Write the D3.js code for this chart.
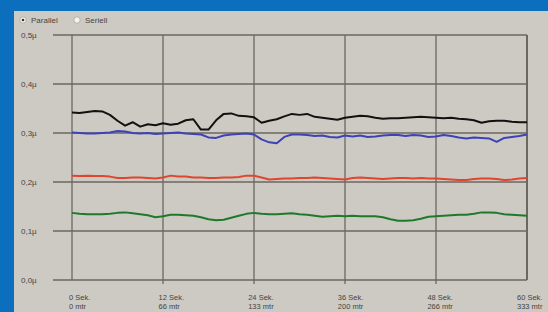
<!DOCTYPE html>
<html>
<head>
<meta charset="utf-8">
<script src="https://cdn.jsdelivr.net/npm/d3@7"></script>
<style>
  html, body { margin: 0; padding: 0; background: #0b6fbe; }
  svg { display: block; }
  text { font-family: "Liberation Sans", Arial, sans-serif; fill: #46443f; }
</style>
</head>
<body>
<svg id="chart" width="548" height="312"></svg>
<script>
// seconds, one sample per second
const seconds = d3.range(0, 61);

const blackValues = [
  0.342, 0.341, 0.343, 0.345, 0.344, 0.337, 0.325, 0.315, 0.322, 0.313,
  0.318, 0.316, 0.320, 0.317, 0.319, 0.326, 0.328, 0.307, 0.307, 0.326,
  0.339, 0.340, 0.335, 0.334, 0.332, 0.321, 0.325, 0.328, 0.334, 0.339,
  0.337, 0.339, 0.333, 0.331, 0.329, 0.327, 0.331, 0.333, 0.335, 0.334,
  0.331, 0.329, 0.330, 0.330, 0.331, 0.332, 0.333, 0.332, 0.331, 0.330,
  0.331, 0.329, 0.328, 0.326, 0.321, 0.324, 0.325, 0.325, 0.323, 0.322, 0.322
];

const blueValues = [
  0.301, 0.300, 0.299, 0.299, 0.300, 0.301, 0.304, 0.303, 0.300, 0.299,
  0.300, 0.298, 0.299, 0.300, 0.301, 0.299, 0.298, 0.297, 0.291, 0.290,
  0.295, 0.297, 0.298, 0.299, 0.297, 0.287, 0.281, 0.279, 0.292, 0.297,
  0.297, 0.296, 0.294, 0.295, 0.292, 0.291, 0.295, 0.293, 0.295, 0.292,
  0.293, 0.295, 0.296, 0.296, 0.294, 0.296, 0.295, 0.292, 0.293, 0.296,
  0.294, 0.291, 0.289, 0.291, 0.290, 0.289, 0.282, 0.290, 0.292, 0.294, 0.297
];

const redValues = [
  0.213, 0.212, 0.213, 0.212, 0.212, 0.211, 0.208, 0.208, 0.209, 0.209,
  0.208, 0.207, 0.209, 0.213, 0.211, 0.211, 0.209, 0.209, 0.208, 0.208,
  0.209, 0.209, 0.210, 0.213, 0.213, 0.209, 0.205, 0.206, 0.207, 0.207,
  0.208, 0.208, 0.209, 0.208, 0.207, 0.206, 0.205, 0.208, 0.209, 0.208,
  0.207, 0.206, 0.207, 0.208, 0.208, 0.207, 0.208, 0.207, 0.207, 0.206,
  0.205, 0.204, 0.204, 0.206, 0.207, 0.207, 0.206, 0.204, 0.205, 0.207, 0.208
];

const greenValues = [
  0.137, 0.135, 0.134, 0.134, 0.134, 0.135, 0.137, 0.138, 0.136, 0.134,
  0.132, 0.128, 0.130, 0.133, 0.133, 0.132, 0.131, 0.128, 0.124, 0.122,
  0.123, 0.127, 0.131, 0.135, 0.137, 0.135, 0.134, 0.134, 0.135, 0.136,
  0.134, 0.133, 0.131, 0.129, 0.130, 0.131, 0.130, 0.131, 0.130, 0.130,
  0.130, 0.128, 0.124, 0.121, 0.121, 0.122, 0.125, 0.129, 0.130, 0.131,
  0.132, 0.133, 0.133, 0.135, 0.138, 0.138, 0.137, 0.134, 0.133, 0.132, 0.131
];

const yTicks = [0, 0.1, 0.2, 0.3, 0.4, 0.5];
const yTickLabels = ['0,0µ', '0,1µ', '0,2µ', '0,3µ', '0,4µ', '0,5µ'];
const xTicks = [0, 12, 24, 36, 48, 60];
const xTickSek = ['0 Sek.', '12 Sek.', '24 Sek.', '36 Sek.', '48 Sek.', '60 Sek.'];
const xTickMtr = ['0 mtr', '66 mtr', '133 mtr', '200 mtr', '266 mtr', '333 mtr'];

const modes = ['Parallel', 'Seriell'];

const series = [
  { values: greenValues, color: '#1d7a2c' },
  { values: redValues, color: '#e0452f' },
  { values: blueValues, color: '#3d42b6' },
  { values: blackValues, color: '#111111' }
];

const svg = d3.select('#chart');

// grey panel on the blue frame
svg.append('rect')
  .attr('x', 14).attr('y', 11)
  .attr('width', 548 - 14).attr('height', 312 - 11)
  .attr('fill', '#cdcac3');

const x = d3.scaleLinear().domain([0, 60]).range([72, 527]);
const y = d3.scaleLinear().domain([0, 0.5]).range([280, 35]);
// labels drift slightly left of their gridlines in the original
const xLabel = d3.scaleLinear().domain([0, 60]).range([69, 517]);

const gridColor = '#6b6761';

// horizontal gridlines
let grid = svg.append('g');
grid.selectAll('line.h')
  .data(yTicks)
  .enter()
  .append('line')
    .attr('x1', 53)
    .attr('x2', x(60))
    .attr('y1', d => y(d))
    .attr('y2', d => y(d))
    .attr('stroke', gridColor)
    .attr('stroke-width', 1.3);

// vertical gridlines
grid.selectAll('line.v')
  .data(xTicks)
  .enter()
  .append('line')
    .attr('x1', d => x(d))
    .attr('x2', d => x(d))
    .attr('y1', y(0.5))
    .attr('y2', d => (d === 0 || d === 60) ? y(0) : y(0) + 4)
    .attr('stroke', gridColor)
    .attr('stroke-width', d => d === 60 ? 2 : 1.3);

// y labels
svg.selectAll('text.ylabel')
  .data(d3.zip(yTicks, yTickLabels))
  .enter()
  .append('text')
    .attr('class', 'ylabel')
    .attr('x', 21)
    .attr('y', d => y(d[0]) + 3)
    .attr('font-size', 8)
    .text(d => d[1]);

// x labels, two rows
let xl = svg.selectAll('g.xlabel')
  .data(d3.zip(xTicks, xTickSek, xTickMtr))
  .enter()
  .append('g')
    .attr('transform', d => `translate(${xLabel(d[0])},0)`);
xl.append('text')
  .attr('y', 300)
  .attr('font-size', 7.5)
  .text(d => d[1]);
xl.append('text')
  .attr('y', 308.5)
  .attr('font-size', 7.5)
  .text(d => d[2]);

// series lines
let line = d3.line()
  .x((d, i) => x(seconds[i]))
  .y(d => y(d));

svg.selectAll('path.series')
  .data(series)
  .enter()
  .append('path')
    .attr('fill', 'none')
    .attr('stroke', d => d.color)
    .attr('stroke-width', 2)
    .attr('stroke-linejoin', 'round')
    .attr('d', d => line(d.values));

// radio buttons
let radios = svg.selectAll('g.radio')
  .data(modes)
  .enter()
  .append('g')
    .attr('transform', (d, i) => `translate(${i === 0 ? 23 : 77},20)`);
radios.append('circle')
  .attr('r', 3.2)
  .attr('fill', '#f4f3f0')
  .attr('stroke', '#a8a59f')
  .attr('stroke-width', 0.8);
radios.filter((d, i) => i === 0)
  .append('circle')
    .attr('r', 1.3)
    .attr('fill', '#333');
radios.append('text')
  .attr('x', 8)
  .attr('y', 2.8)
  .attr('font-size', 8)
  .text(d => d);
</script>
</body>
</html>
